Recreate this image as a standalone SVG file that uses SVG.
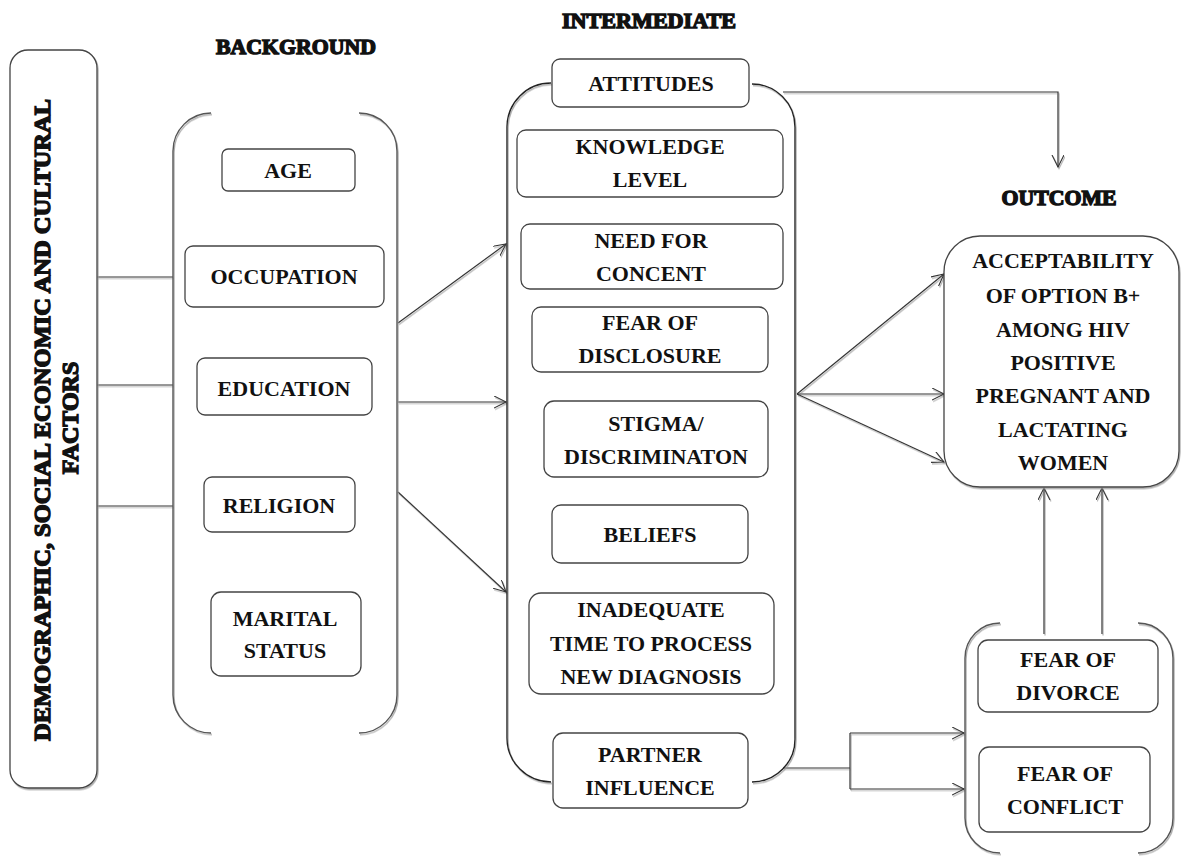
<svg xmlns="http://www.w3.org/2000/svg" width="1186" height="857" viewBox="0 0 1186 857" font-family="'Liberation Serif', 'Times New Roman', Tinos, 'DejaVu Serif', serif">
<style>
.box{fill:#fff;stroke:#444;stroke-width:1.3}
.br{fill:none;stroke:#555;stroke-width:1.4}
.ln{fill:none;stroke:#333;stroke-width:1.2}
text{font-family:'Liberation Serif','Times New Roman',Tinos,'DejaVu Serif',serif}
.t{font-weight:bold;font-size:22px;fill:#111;text-anchor:middle}
.h{font-weight:bold;font-size:20px;fill:#111;stroke:#111;stroke-width:1.3;text-anchor:middle}
.v{font-weight:bold;font-size:24px;fill:#111;stroke:#111;stroke-width:1.4;text-anchor:middle}
</style>
<defs>
<filter id="sh" x="-5%" y="-5%" width="110%" height="110%">
<feDropShadow dx="1" dy="1.5" stdDeviation="0.6" flood-color="#999" flood-opacity="0.8"/>
</filter>
<marker id="ah" markerWidth="14" markerHeight="14" refX="12" refY="6" orient="auto" markerUnits="userSpaceOnUse">
<path d="M0,0 L12,6 L0,12" fill="none" stroke="#333" stroke-width="1.1"/>
</marker>
</defs>

<g id="headings">
<text class="h" x="296" y="54" textLength="160" lengthAdjust="spacingAndGlyphs">BACKGROUND</text>
<text class="h" x="649" y="28" textLength="174" lengthAdjust="spacingAndGlyphs">INTERMEDIATE</text>
<text class="h" x="1059" y="205" textLength="115" lengthAdjust="spacingAndGlyphs">OUTCOME</text>
</g>

<g id="connectors" filter="url(#sh)">
<line class="ln" x1="97" y1="277" x2="173" y2="277"/>
<line class="ln" x1="97" y1="385" x2="173" y2="385"/>
<line class="ln" x1="97" y1="506" x2="173" y2="506"/>
<line class="ln" x1="398" y1="323" x2="506" y2="244" marker-end="url(#ah)"/>
<line class="ln" x1="398" y1="402" x2="506" y2="402" marker-end="url(#ah)"/>
<line class="ln" x1="398" y1="492" x2="506" y2="592" marker-end="url(#ah)"/>
<line class="ln" x1="797" y1="394" x2="944" y2="274" marker-end="url(#ah)"/>
<line class="ln" x1="797" y1="394" x2="944" y2="394" marker-end="url(#ah)"/>
<line class="ln" x1="797" y1="394" x2="944" y2="462" marker-end="url(#ah)"/>
<polyline class="ln" points="783,92 1058,92 1058,167" marker-end="url(#ah)"/>
<line class="ln" x1="1044" y1="634" x2="1044" y2="488" marker-end="url(#ah)"/>
<line class="ln" x1="1102" y1="634" x2="1102" y2="488" marker-end="url(#ah)"/>
<line class="ln" x1="783" y1="768" x2="850" y2="768"/>
<line class="ln" x1="850" y1="733" x2="850" y2="789"/>
<line class="ln" x1="850" y1="733" x2="964" y2="733" marker-end="url(#ah)"/>
<line class="ln" x1="850" y1="789" x2="964" y2="789" marker-end="url(#ah)"/>
</g>

<g id="factors">
<rect class="box" x="10" y="50" width="87" height="738" rx="18" filter="url(#sh)"/>
<text class="v" transform="translate(50,420) rotate(-90)" textLength="642" lengthAdjust="spacingAndGlyphs">DEMOGRAPHIC, SOCIAL ECONOMIC AND CULTURAL</text>
<text class="v" transform="translate(78,418) rotate(-90)">FACTORS</text>
</g>

<g id="background" filter="url(#sh)">
<path class="br" d="M211,113 A38,38 0 0 0 173,151 L173,695 A38,38 0 0 0 211,733"/>
<path class="br" d="M359,113 A38,38 0 0 1 397,151 L397,695 A38,38 0 0 1 359,733"/>
</g>
<g id="age"><rect class="box" x="222" y="149" width="133" height="42" rx="6"/><text class="t" x="288" y="178">AGE</text></g>
<g id="occupation"><rect class="box" x="185" y="246" width="199" height="61" rx="8"/><text class="t" x="284" y="284">OCCUPATION</text></g>
<g id="education"><rect class="box" x="197" y="358" width="175" height="57" rx="8"/><text class="t" x="284" y="396">EDUCATION</text></g>
<g id="religion"><rect class="box" x="204" y="477" width="151" height="55" rx="8"/><text class="t" x="279" y="513">RELIGION</text></g>
<g id="marital"><rect class="box" x="211" y="592" width="150" height="84" rx="10"/><text class="t" x="285" y="626">MARITAL</text><text class="t" x="285" y="658">STATUS</text></g>

<g id="intermediate" filter="url(#sh)">
<path class="br" style="stroke:#222" d="M551,83 A44,44 0 0 0 507,127 L507,738 A44,44 0 0 0 551,782"/>
<path class="br" style="stroke:#222" d="M752,84 A43,43 0 0 1 795,127 L795,738 A43,43 0 0 1 752,782"/>
</g>
<g id="attitudes"><rect class="box" x="552" y="59" width="197" height="48" rx="8"/><text class="t" x="651" y="91">ATTITUDES</text></g>
<g id="knowledge"><rect class="box" x="517" y="130" width="266" height="67" rx="9"/><text class="t" x="650" y="154">KNOWLEDGE</text><text class="t" x="650" y="187">LEVEL</text></g>
<g id="consent"><rect class="box" x="521" y="224" width="262" height="65" rx="9"/><text class="t" x="651" y="248">NEED FOR</text><text class="t" x="651" y="281">CONCENT</text></g>
<g id="disclosure"><rect class="box" x="532" y="307" width="236" height="65" rx="9"/><text class="t" x="650" y="330">FEAR OF</text><text class="t" x="650" y="363">DISCLOSURE</text></g>
<g id="stigma"><rect class="box" x="544" y="401" width="224" height="76" rx="10"/><text class="t" x="656" y="431">STIGMA/</text><text class="t" x="656" y="464">DISCRIMINATON</text></g>
<g id="beliefs"><rect class="box" x="552" y="505" width="196" height="58" rx="9"/><text class="t" x="650" y="542">BELIEFS</text></g>
<g id="inadequate"><rect class="box" x="529" y="593" width="245" height="101" rx="12"/><text class="t" x="651" y="617">INADEQUATE</text><text class="t" x="651" y="651">TIME TO PROCESS</text><text class="t" x="651" y="684">NEW DIAGNOSIS</text></g>
<g id="partner"><rect class="box" x="553" y="733" width="195" height="75" rx="10"/><text class="t" x="650" y="762">PARTNER</text><text class="t" x="650" y="795">INFLUENCE</text></g>

<g id="outcome"><rect class="box" x="944" y="236" width="235" height="251" rx="36" filter="url(#sh)"/>
<text class="t" x="1063" y="268">ACCEPTABILITY</text>
<text class="t" x="1063" y="303">OF OPTION B+</text>
<text class="t" x="1063" y="337">AMONG HIV</text>
<text class="t" x="1063" y="370">POSITIVE</text>
<text class="t" x="1063" y="403">PREGNANT AND</text>
<text class="t" x="1063" y="437">LACTATING</text>
<text class="t" x="1063" y="470">WOMEN</text>
</g>

<g id="fears" filter="url(#sh)">
<path class="br" d="M1000,623 A35,35 0 0 0 965,658 L965,818 A35,35 0 0 0 1000,853"/>
<path class="br" d="M1138,623 A35,35 0 0 1 1173,658 L1173,818 A35,35 0 0 1 1138,853"/>
</g>
<g id="divorce"><rect class="box" x="978" y="640" width="180" height="72" rx="10"/><text class="t" x="1068" y="667">FEAR OF</text><text class="t" x="1068" y="700">DIVORCE</text></g>
<g id="conflict"><rect class="box" x="979" y="747" width="171" height="85" rx="10"/><text class="t" x="1065" y="781">FEAR OF</text><text class="t" x="1065" y="814">CONFLICT</text></g>
</svg>
